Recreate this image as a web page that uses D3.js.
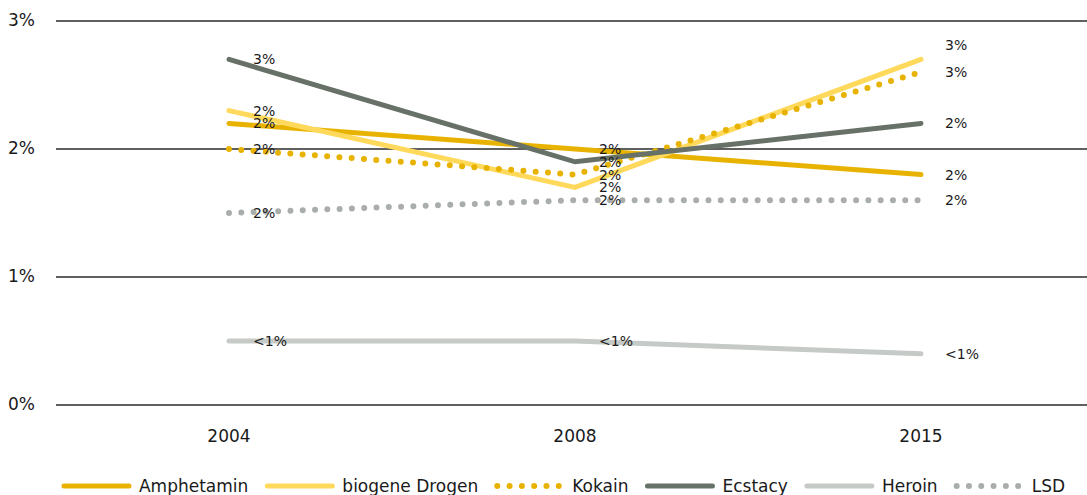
<!DOCTYPE html>
<html>
<head>
<meta charset="utf-8">
<script src="https://cdn.jsdelivr.net/npm/d3@7"></script>
<style>
body { margin:0; background:#fff; }
text { font-family:"DejaVu Sans", sans-serif; fill:#1a1a1a; }
.grid { stroke:#2a2a2a; stroke-width:1.6; }
.tick-label { font-size:17px; }
.val { font-size:14px; }
.leg { font-size:17px; }
</style>
</head>
<body>
<script>
var WIDTH = 1087, HEIGHT = 495;

var years = ['2004','2008','2015'];
var yTicks = [0,1,2,3];

var names = ['Amphetamin','biogene Drogen','Kokain','Ecstacy','Heroin','LSD'];
var amphetamin = [2.2, 2.0, 1.8];
var biogene = [2.3, 1.7, 2.7];
var kokain = [2.0, 1.8, 2.6];
var ecstacy = [2.7, 1.9, 2.2];
var heroin = [0.5, 0.5, 0.4];
var lsd = [1.5, 1.6, 1.6];

var colors = ['#e8b300','#ffd95c','#e8b300','#687168','#c5cac6','#a9aeaa'];
var dotted = [false,false,true,false,false,true];

var seriesValues = [amphetamin,biogene,kokain,ecstacy,heroin,lsd];

var series = names.map(function(n,i){
    return {name:n, values:seriesValues[i], color:colors[i], dotted:dotted[i]};
});

// label nudges (biogene 2015 label sits above kokain's)
var labelShift = {'biogene Drogen-2':-14};

var labelText = function(v){
    if (v < 1) return '<1%';
    return Math.round(v) + '%';
};

var _xScale = d3.scalePoint()
    .domain(years)
    .range([56,1094])
    .padding(0.5);

var _yScale = d3.scaleLinear()
    .domain([0,3])
    .range([405,21]);

var _svg = d3.select('body').append('svg')
    .attr('width',WIDTH)
    .attr('height',HEIGHT);

// grid + y labels
_svg.append('g').selectAll('line').data(yTicks)
    .enter().append('line')
        .classed('grid',true)
        .attr('x1',56).attr('x2',WIDTH)
        .attr('y1',function(d){return _yScale(d)})
        .attr('y2',function(d){return _yScale(d)});

_svg.append('g').selectAll('text').data(yTicks)
    .enter().append('text')
        .classed('tick-label',true)
        .attr('x',35)
        .attr('y',function(d){return _yScale(d)})
        .attr('dy','0.3em')
        .attr('text-anchor','end')
        .text(function(d){return d + '%'});

// x labels
_svg.append('g').selectAll('text').data(years)
    .enter().append('text')
        .classed('tick-label',true)
        .attr('x',function(d){return _xScale(d)})
        .attr('y',442)
        .attr('text-anchor','middle')
        .text(function(d){return d});

var line = d3.line()
    .x(function(d,i){return _xScale(years[i])})
    .y(function(d){return _yScale(d)});

var lines = _svg.append('g');
series.forEach(function(s){
    lines.append('path')
        .attr('d',line(s.values))
        .attr('fill','none')
        .attr('stroke',s.color)
        .attr('stroke-linecap','round')
        .attr('stroke-linejoin','miter')
        .attr('stroke-width',s.dotted ? 6 : 5)
        .attr('stroke-dasharray',s.dotted ? '0,12.3' : null);
});

var labels = _svg.append('g');
series.forEach(function(s){
    labels.selectAll(null).data(s.values)
        .enter().append('text')
            .classed('val',true)
            .attr('x',function(d,i){return _xScale(years[i]) + 24})
            .attr('y',function(d,i){return _yScale(d) + (labelShift[s.name+'-'+i] || 0)})
            .attr('dy','0.35em')
            .text(function(d){return labelText(d)});
});

// legend
var legend = _svg.append('g');
var lx = 0, ly = 486;
series.forEach(function(s){
    var g = legend.append('g').attr('transform','translate('+lx+',0)');
    g.append('line')
        .attr('x1',3).attr('x2',s.dotted ? 70 : 68)
        .attr('y1',ly).attr('y2',ly)
        .attr('stroke',s.color)
        .attr('stroke-width',s.dotted ? 6 : 5)
        .attr('stroke-linecap','round')
        .attr('stroke-dasharray',s.dotted ? '0,12.3' : null);
    var t = g.append('text')
        .classed('leg',true)
        .attr('x',78)
        .attr('y',ly)
        .attr('dy','0.35em')
        .text(s.name);
    lx += 78 + t.node().getComputedTextLength() + 16;
});
legend.attr('transform','translate('+(563 - (lx-16)/2)+',0)');
</script>
</body>
</html>
